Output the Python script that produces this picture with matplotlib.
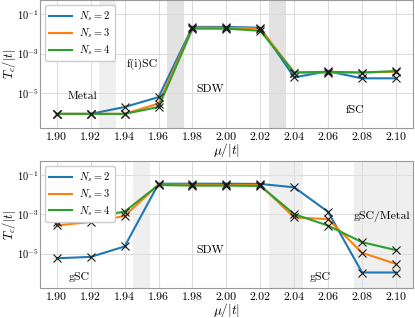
import matplotlib
matplotlib.use("Agg")
import matplotlib.pyplot as plt

plt.rcParams["font.family"] = "serif"
plt.rcParams["font.serif"] = ["cmr10", "DejaVu Serif"]
plt.rcParams["mathtext.fontset"] = "cm"
plt.rcParams["axes.formatter.use_mathtext"] = True

mu = [1.90, 1.92, 1.94, 1.96, 1.98, 2.00, 2.02, 2.04, 2.06, 2.08, 2.10]
ns_labels = [r"$N_s = 2$", r"$N_s = 3$", r"$N_s = 4$"]
colors = ["#1f77b4", "#ff7f0e", "#2ca02c"]

# top panel
top_ns2 = [9e-7, 9e-7, 2e-6, 6.3e-6, 0.022, 0.022, 0.020, 6.3e-5, 1.26e-4, 5.6e-5, 5.6e-5]
top_ns3 = [9e-7, 9e-7, 9e-7, 3e-6, 0.020, 0.020, 0.018, 1.1e-4, 1.1e-4, 1.1e-4, 1.2e-4]
top_ns4 = [9e-7, 9e-7, 9e-7, 2e-6, 0.018, 0.018, 0.014, 1.1e-4, 1.2e-4, 1.1e-4, 1.3e-4]
top_spans = [(1.925, 1.935, "#efefef"), (1.965, 1.975, "#e2e2e2"), (2.025, 2.035, "#e2e2e2")]
top_texts = [(1.915, 7e-6, "Metal"), (1.9506, 2.8e-4, "f(i)SC"),
             (1.9906, 1.6e-5, "SDW"), (2.0759, 1.4e-6, "fSC")]

# bottom panel
bot_ns2 = [5.8e-6, 6.8e-6, 2.3e-5, 0.035, 0.035, 0.035, 0.034, 0.023, 1.3e-3, 1.1e-6, 1.1e-6]
bot_ns3 = [2.7e-4, 4e-4, 8e-4, 0.032, 0.031, 0.030, 0.030, 6.8e-4, 5.6e-4, 1.1e-5, 3e-6]
bot_ns4 = [3.8e-4, 6.8e-4, 1.35e-3, 0.030, 0.028, 0.028, 0.027, 1e-3, 2.6e-4, 3.8e-5, 1.5e-5]
bot_spans = [(1.945, 1.955, "#efefef"), (2.025, 2.045, "#efefef"), (2.075, 2.12, "#efefef")]
bot_texts = [(1.913, 6.3e-7, "gSC"), (1.9906, 1.4e-5, "SDW"),
             (2.0553, 6.3e-7, "gSC"), (2.0918, 8e-4, "gSC/Metal")]

ylim = (10 ** -6.75, 10 ** -0.3)


def draw_panel(ax, series, spans, texts):
    for lo, hi, c in spans:
        ax.axvspan(lo, hi, color=c, lw=0, zorder=0)
    for vals, lab, c in zip(series, ns_labels, colors):
        ax.plot(mu, vals, color=c, lw=1.5, label=lab, zorder=2)
        ax.plot(mu, vals, ls="none", marker="x", ms=5.5, mew=0.8, color="#1a1a1a", zorder=3)
    for x, y, s in texts:
        ax.text(x, y, s, ha="center", va="center", fontsize=8.5)
    ax.set_yscale("log")
    ax.set_ylim(*ylim)
    ax.set_xlim(1.89, 2.11)
    ax.set_xticks(mu)
    ax.set_xticklabels([f"{m:.2f}" for m in mu])
    ax.set_yticks([1e-5, 1e-3, 1e-1])
    ax.minorticks_off()
    ax.grid(True, color="#dddddd", lw=0.8, zorder=1)
    ax.set_axisbelow(True)
    for sp in ax.spines.values():
        sp.set_color("#999999")
    ax.tick_params(axis="x", labelsize=8.5, length=0, pad=3)
    ax.tick_params(axis="y", labelsize=7.5, length=0, pad=1)
    ax.set_xlabel(r"$\mu/|t|$", fontsize=9.5, labelpad=-0.5)
    ax.set_ylabel(r"$T_c/|t|$", fontsize=9, va="center")
    ax.yaxis.set_label_coords(-0.084, 0.5)
    ax.legend(loc="upper left", fontsize=7.5, handlelength=2.2, borderpad=0.4,
              labelspacing=0.3, handletextpad=0.7, framealpha=1, edgecolor="#cccccc")


fig = plt.figure(figsize=(4.15, 3.18), dpi=100)
ax1 = fig.add_axes([0.096, 0.598, 0.899, 0.402])
ax2 = fig.add_axes([0.096, 0.094, 0.899, 0.400])
draw_panel(ax1, [top_ns2, top_ns3, top_ns4], top_spans, top_texts)
draw_panel(ax2, [bot_ns2, bot_ns3, bot_ns4], bot_spans, bot_texts)
fig.savefig("out.png", dpi=100)
